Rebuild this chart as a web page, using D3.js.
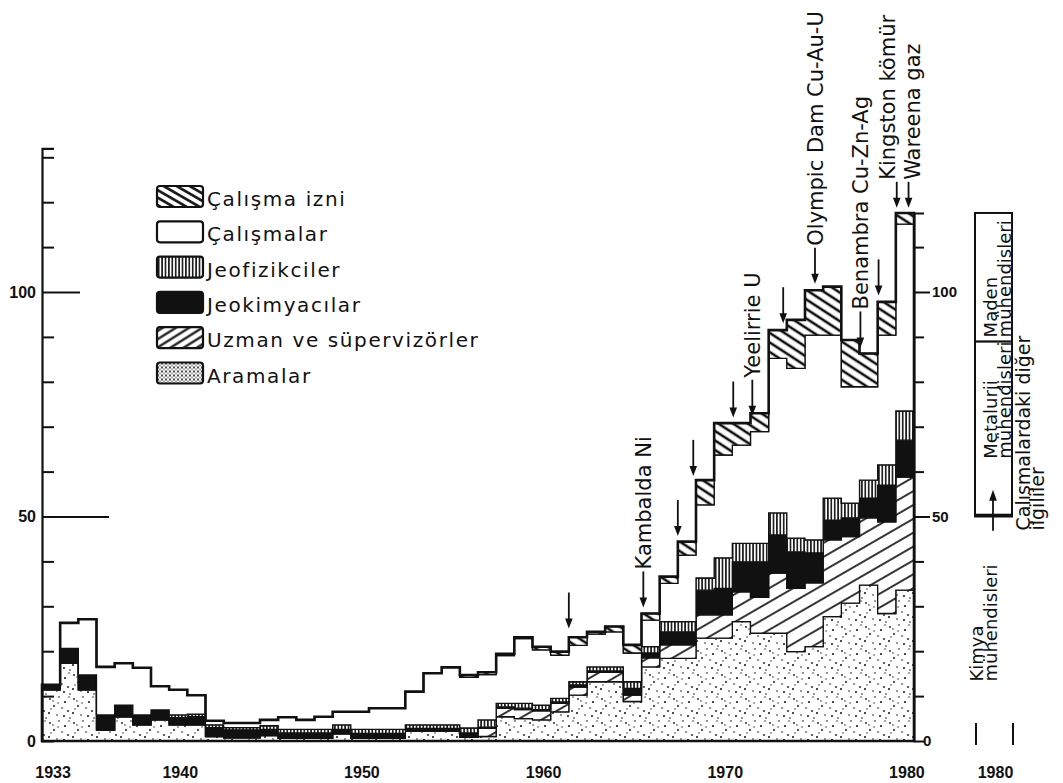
<!DOCTYPE html>
<html>
<head>
<meta charset="utf-8">
<script src="https://cdn.jsdelivr.net/npm/d3@7"></script>
<style>
  body { margin: 0; background: #fff; }
  svg { display: block; }
</style>
</head>
<body>
<svg id="chart" width="1063" height="783"></svg>
<script>
/* Years (one step per year) */
const years = [1933,1934,1935,1936,1937,1938,1939,1940,1941,1942,
               1943,1944,1945,1946,1947,1948,1949,1950,1951,1952,
               1953,1954,1955,1956,1957,1958,1959,1960,1961,1962,
               1963,1964,1965,1966,1967,1968,1969,1970,1971,1972,
               1973,1974,1975,1976,1977,1978,1979,1980];

/* layer thickness per year, bottom to top */
const aramalar   = [11.4,17.3,11.4,2.4,5.4,3.6,4.7,3.6,3.6,1.0,
                    0.7,0.7,1.2,0.6,0.6,0.6,1.6,0.6,0.6,0.6,
                    2.2,2.2,2.2,0.8,1.0,5.4,5.0,4.7,6.5,10.2,
                    13.2,13.2,8.8,16.5,18.4,18.4,22.9,22.9,26.6,24.0,
                    24.0,19.9,21.0,27.7,30.7,34.7,28.4,33.6];
const uzman      = [0,0,0,0,0,0,0,0,0,0,
                    0,0,0,0,0,0,0,0,0,0,
                    0,0,0,0,1.8,1.9,2.0,2.0,1.9,1.8,
                    2.1,2.1,1.4,2.0,3.0,3.0,5.2,5.2,6.6,8.0,
                    13.4,14.1,14.2,17.1,14.8,15.0,20.4,25.2];
const jeokimya   = [1.1,3.3,3.3,3.4,2.6,2.2,2.2,1.6,1.8,2.0,
                    1.8,1.8,1.4,1.2,1.2,1.2,1.0,1.1,1.1,1.1,
                    0.6,0.6,0.6,1.0,0.3,0.3,0.3,0.3,0.3,0.5,
                    0.3,0.3,1.5,1.1,2.9,2.9,5.5,5.9,6.7,7.9,
                    8.5,8.1,6.7,4.4,4.2,4.4,8.2,8.2];
const jeofizik   = [0,0,0,0,0,0,0,0.6,0.6,0.6,
                    0.5,0.5,0.8,0.8,0.8,0.8,1.0,0.9,0.9,0.9,
                    0.8,0.8,0.8,1.1,1.6,0.8,1.1,1.0,0.8,0.7,
                    0.9,0.9,1.5,1.4,2.3,2.3,2.7,6.8,4.1,4.1,
                    4.9,3.1,2.9,4.9,3.3,4.0,4.5,6.5];
const calismalar = [0,5.7,12.4,10.7,9.3,10.5,5.3,5.6,4.2,0.9,
                    1.0,1.0,1.3,2.7,2.1,2.8,2.9,3.9,4.7,4.7,
                    7.4,11.5,12.8,11.3,10.1,10.6,14.4,12.3,9.6,8.1,
                    7.3,7.8,6.4,5.9,8.5,14.8,16.3,22.9,21.9,24.9,
                    34.4,37.8,45.6,36.3,25.9,20.8,28.9,41.6];
const izni       = [0,0,0,0,0,0,0,0,0,0,
                    0,0,0,0,0,0,0,0,0,0,
                    0,0,0,0.5,0.5,0.4,0.3,0.7,0.8,1.8,
                    0.5,1.2,1.8,1.5,1.5,3.0,5.5,7.1,4.9,4.1,
                    6.3,10.8,10.0,10.8,10.4,7.4,7.4,2.5];

const keys = ["aramalar","uzman","jeokimya","jeofizik","calismalar","izni"];
const legendKeys   = ["izni","calismalar","jeofizik","jeokimya","uzman","aramalar"];
const legendLabels = ["Çalışma izni","Çalışmalar","Jeofizikciler","Jeokimyacılar","Uzman ve süpervizörler","Aramalar"];

/* event arrows: position in years, tip value, label */
const eventYears  = [1962.0, 1966.1, 1968.0, 1968.85, 1971.05, 1972.1, 1973.8, 1975.55, 1978.05, 1979.05, 1980.05, 1980.7];
const eventTips   = [24.6, 29.3, 45.2, 58.6, 71.6, 72.0, 92.6, 101.4, 87.2, 98.8, 118.3, 118.3];
const eventLabels = ["", "Kambalda Ni", "", "", "", "Yeelirrie U", "", "Olympic Dam Cu-Au-U", "Benambra Cu-Zn-Ag", "", "Kingston kömür", "Wareena gaz"];

/* 1980 breakdown column */
const compLabels = [["Çalışmalardaki diğer","ilgililer"],["Kimya","mühendisleri"],["Metalurji","mühendisleri"],["Maden","mühendisleri"]];
const compValues = [50, 0.4, 38.6, 28.6];

const xTicks = [1933, 1940, 1950, 1960, 1970, 1980];
const leftLabels = [0, 50, 100];
const rightLabels = [50, 100];

const svg = d3.select('#chart');
const ink = '#111';

const x = d3.scaleLinear().domain([1933, 1981]).range([42, 914]);
const y = d3.scaleLinear().domain([0, 100]).range([741, 292]);

/* patterns */
const defs = svg.append('defs');
function hatch(id, angle, gap, w) {
  const p = defs.append('pattern').attr('id', id)
    .attr('patternUnits', 'userSpaceOnUse')
    .attr('width', 20).attr('height', gap)
    .attr('patternTransform', `rotate(${angle})`);
  p.append('rect').attr('width', 20).attr('height', gap).attr('fill', '#fff');
  p.append('line').attr('x1', 0).attr('x2', 20)
    .attr('y1', gap / 2).attr('y2', gap / 2)
    .attr('stroke', ink).attr('stroke-width', w);
}
hatch('p-izni', 33, 8, 2.6);
hatch('p-uzman', -30, 12, 1.7);
hatch('p-uzman-leg', -32, 7, 2.2);
hatch('p-izni-leg', 30, 6.5, 2.6);

const vl = defs.append('pattern').attr('id', 'p-jeofizik')
  .attr('patternUnits', 'userSpaceOnUse').attr('width', 3.4).attr('height', 10);
vl.append('rect').attr('width', 3.4).attr('height', 10).attr('fill', '#fff');
vl.append('line').attr('x1', 1.7).attr('x2', 1.7).attr('y1', 0).attr('y2', 10)
  .attr('stroke', ink).attr('stroke-width', 1.6);

const dots = defs.append('pattern').attr('id', 'p-aramalar')
  .attr('patternUnits', 'userSpaceOnUse').attr('width', 24).attr('height', 24);
dots.append('rect').attr('width', 24).attr('height', 24).attr('fill', '#fff');
[[2,3,0.9],[11,1,0.8],[17,6,1.0],[6,10,0.9],[14,12,0.8],[1,17,1.0],[9,19,0.8],
 [20,15,0.9],[5,5,0.7],[22,22,0.8],[16,20,1.0],[10,7,0.7],[21,1,0.7],[3,13,0.7]].forEach(d => {
  dots.append('circle').attr('cx', d[0]).attr('cy', d[1]).attr('r', d[2]).attr('fill', ink);
});

const dotsLeg = defs.append('pattern').attr('id', 'p-aramalar-leg')
  .attr('patternUnits', 'userSpaceOnUse').attr('width', 4).attr('height', 4);
dotsLeg.append('rect').attr('width', 4).attr('height', 4).attr('fill', '#fff');
dotsLeg.append('circle').attr('cx', 1).attr('cy', 1).attr('r', 1).attr('fill', ink);
dotsLeg.append('circle').attr('cx', 3).attr('cy', 3).attr('r', 0.7).attr('fill', ink);

const fills = {
  aramalar: 'url(#p-aramalar)', uzman: 'url(#p-uzman)', jeokimya: ink,
  jeofizik: 'url(#p-jeofizik)', calismalar: '#fff', izni: 'url(#p-izni)'
};
const legFills = Object.assign({}, fills, {
  aramalar: 'url(#p-aramalar-leg)', uzman: 'url(#p-uzman-leg)', izni: 'url(#p-izni-leg)'
});

/* table for the stack; extra row closes the last step */
const series = { aramalar, uzman, jeokimya, jeofizik, calismalar, izni };
const rows = years.map((yr, i) => {
  const r = { year: yr };
  keys.forEach(k => r[k] = series[k][i]);
  return r;
});
rows.push(Object.assign({}, rows[rows.length - 1], { year: years[years.length - 1] + 1 }));

const stacked = d3.stack().keys(keys)(rows);

const area = d3.area().curve(d3.curveStepAfter)
  .x(d => x(d.data.year)).y0(d => y(d[0])).y1(d => y(d[1]));

svg.append('g').selectAll('path')
  .data(stacked)
  .join('path')
  .attr('d', area)
  .attr('fill', d => fills[d.key])
  .attr('stroke', ink)
  .attr('stroke-width', 1.3)
  .attr('stroke-linejoin', 'miter');

/* heavy outline of the total */
const topLayer = stacked[stacked.length - 1];
const outline = d3.area().curve(d3.curveStepAfter)
  .x(d => x(d.data.year)).y0(y(0)).y1(d => y(d[1]));
svg.append('path')
  .attr('d', outline(topLayer))
  .attr('fill', 'none').attr('stroke', ink).attr('stroke-width', 2.6);

/* left axis */
const yAxisScale = y.copy().domain([0, 132]).range([y(0), y(132)]);
const leftAxis = svg.append('g').attr('transform', `translate(${x(1933)},0)`)
  .call(d3.axisRight(yAxisScale).tickValues(d3.range(10, 131, 10)).tickSize(12).tickFormat(''));
leftAxis.select('.domain').attr('stroke', ink).attr('stroke-width', 2.2);
leftAxis.selectAll('.tick line').attr('stroke', ink).attr('stroke-width', 2)
  .attr('x2', d => d === 50 ? 67 : d === 100 ? 38 : 12);

svg.append('g').selectAll('text').data(leftLabels).join('text')
  .attr('x', 36).attr('y', d => y(d)).attr('dy', '0.36em')
  .attr('text-anchor', 'end')
  .style('font', 'bold 16px "Liberation Sans", Arial, sans-serif')
  .attr('fill', ink).text(d => d);

/* right axis */
const rightAxis = svg.append('g').attr('transform', `translate(${x(1981)},0)`)
  .call(d3.axisRight(y.copy().domain([0, 117.6]).range([y(0), y(117.6)]))
    .tickValues(d3.range(10, 111, 10)).tickSize(10).tickFormat(''));
rightAxis.select('.domain').attr('stroke', ink).attr('stroke-width', 2);
rightAxis.selectAll('.tick line').attr('stroke', ink).attr('stroke-width', 2)
  .attr('x2', d => (d === 50 || d === 100) ? 16 : 10);

svg.append('g').selectAll('text').data(rightLabels).join('text')
  .attr('x', x(1981) + 18).attr('y', d => y(d)).attr('dy', '0.36em')
  .style('font', 'bold 15px "Liberation Sans", Arial, sans-serif')
  .attr('fill', ink).text(d => d);
svg.append('text').attr('x', x(1981) + 9).attr('y', y(0)).attr('dy', '0.36em')
  .style('font', 'bold 15px "Liberation Sans", Arial, sans-serif')
  .attr('fill', ink).text('0');

/* x labels */
svg.append('g').selectAll('text').data(xTicks).join('text')
  .attr('x', d => x(d + 0.5) + 2).attr('y', 778)
  .attr('text-anchor', 'middle')
  .style('font', 'bold 16px "Liberation Sans", Arial, sans-serif')
  .attr('fill', ink).text(d => d);

/* legend */
const leg = svg.append('g').attr('transform', 'translate(157,186)');
const li = leg.selectAll('g').data(legendKeys).join('g')
  .attr('transform', (d, i) => `translate(0,${i * 35.3})`);
li.append('rect').attr('width', 46).attr('height', 21).attr('rx', 3)
  .attr('fill', d => legFills[d]).attr('stroke', ink).attr('stroke-width', 2.2);
li.append('text').attr('x', 50).attr('y', 20)
  .style('font', '20px "DejaVu Sans", sans-serif')
  .style('letter-spacing', '1.6px')
  .attr('fill', ink).text((d, i) => legendLabels[i]);

/* event arrows and labels */
const ev = svg.append('g').selectAll('g').data(eventYears).join('g');
ev.each(function (yr, i) {
  const g = d3.select(this);
  const ax = x(yr);
  const tip = y(eventTips[i]) - 2;
  const len = i >= 10 ? 26 : 36;
  const top0 = tip - len;
  g.append('line').attr('x1', ax).attr('x2', ax).attr('y1', top0).attr('y2', tip - 8)
    .attr('stroke', ink).attr('stroke-width', 1.8);
  g.append('path').attr('d', `M${ax - 3.8},${tip - 10}L${ax + 3.8},${tip - 10}L${ax},${tip}Z`)
    .attr('fill', ink);
  if (eventLabels[i]) {
    // the two last labels sit side by side: one left, one right of its arrow
    const shift = i === 10 ? -2 : i === 11 ? 11 : 8;
    g.append('text')
      .attr('transform', `translate(${ax + shift},${top0 - 2}) rotate(-90)`)
      .style('font', '21px "DejaVu Sans", sans-serif')
      .attr('fill', ink).text(eventLabels[i]);
  }
});

/* 1980 breakdown column */
const xc = d3.scaleBand().domain(['1980']).range([975, 1012]);
const cum = d3.cumsum(compValues);
const comp = compValues.map((v, i) => ({ v0: cum[i] - v, v1: cum[i], labels: compLabels[i] }));

svg.append('g').selectAll('rect').data(comp.slice(1)).join('rect')
  .attr('x', xc('1980')).attr('width', xc.bandwidth())
  .attr('y', d => y(d.v1)).attr('height', d => y(d.v0) - y(d.v1))
  .attr('fill', '#fff').attr('stroke', ink).attr('stroke-width', 2);

function rotLabel(lines, bx, by, size) {
  lines.forEach((t, j) => {
    svg.append('text')
      .attr('transform', `translate(${bx + j * 14},${by}) rotate(-90)`)
      .style('font', `${size}px "DejaVu Sans", sans-serif`).attr('fill', ink).text(t);
  });
}
const x0c = xc('1980');
rotLabel(comp[3].labels, x0c + 22, y(comp[3].v0) - 4, 18);
rotLabel(comp[2].labels, x0c + 22, y(comp[2].v0) - 56, 18);
rotLabel(comp[1].labels, x0c + 8, y(comp[0].v1) + 165, 18);
rotLabel(comp[0].labels, x0c + xc.bandwidth() + 18, y(comp[0].v1) + 14, 19);

/* Kimya arrow pointing up into the column */
const kx = x0c + 18;
svg.append('line').attr('x1', kx).attr('x2', kx)
  .attr('y1', y(comp[1].v1) + 16).attr('y2', y(comp[1].v1) - 16)
  .attr('stroke', ink).attr('stroke-width', 1.8);
svg.append('path')
  .attr('d', `M${kx - 3.8},${y(comp[1].v1) - 14}L${kx + 3.8},${y(comp[1].v1) - 14}L${kx},${y(comp[1].v1) - 25}Z`)
  .attr('fill', ink);

/* column edge marks and label */
svg.append('g').selectAll('line').data(xc.range()).join('line')
  .attr('x1', d => d + 1).attr('x2', d => d + 1)
  .attr('y1', y(0) - 18).attr('y2', y(0) + 4)
  .attr('stroke', ink).attr('stroke-width', 2);
svg.append('text').attr('x', xc('1980') + xc.bandwidth() / 2 + 2).attr('y', 778)
  .attr('text-anchor', 'middle')
  .style('font', 'bold 16px "Liberation Sans", Arial, sans-serif')
  .attr('fill', ink).text('1980');
</script>
</body>
</html>
